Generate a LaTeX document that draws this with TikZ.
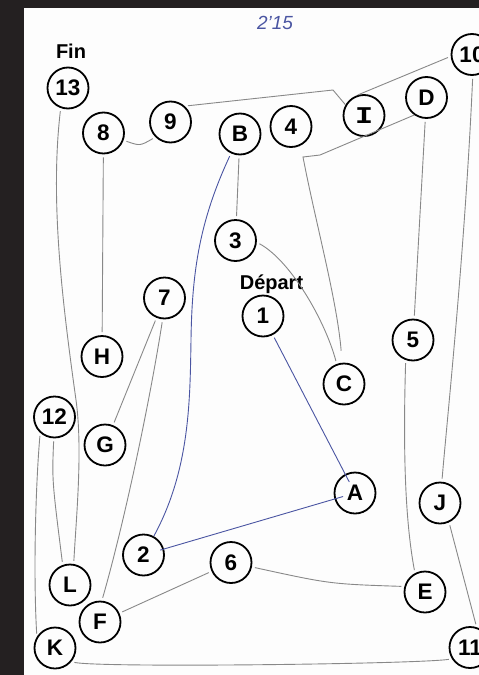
\documentclass[tikz,border=0pt]{standalone}
\usepackage{fontspec}
\setmainfont{Liberation Sans}
\newfontfamily\monoI{Liberation Mono}
\usepackage{tikz}
\usetikzlibrary{calc}
\definecolor{scan}{HTML}{242021}
\definecolor{paper}{HTML}{FDFDFD}
\definecolor{pencil}{HTML}{888888}
\definecolor{bic}{HTML}{4A55A2}

\begin{document}
\begin{tikzpicture}[
  x=1pt, y=-1pt,
  disc/.style={draw, circle, line width=1.8pt, fill=paper, minimum size=41pt, inner sep=0pt,
               font=\fontsize{22.5}{22.5}\selectfont\bfseries},
  tag/.style={anchor=base, font=\fontsize{20}{20}\selectfont\bfseries},
  trail/.style={draw=pencil, line width=0.9pt, shorten <=3pt, shorten >=3pt},
  pen/.style={trail, draw=bic}
]
\useasboundingbox (0,0) rectangle (479,675);
\fill[paper] (0,0) rectangle (479,675);
\fill[scan] (0,0) rectangle (24,675);
\fill[scan] (0,0) rectangle (479,8);

\node[anchor=base, text=bic, font=\fontsize{19}{19}\selectfont\itshape] (chrono) at (275,29) {2'15};
\node[tag] (fin) at (71,58) {Fin};
\node[tag] (depart) at (271.5,289) {Départ};

\node[disc] (n1) at (263,316) {1};
\node[disc] (n2) at (143.5,555) {2};
\node[disc] (n3) at (235.5,240.5) {3};
\node[disc] (n4) at (291,126.5) {4};
\node[disc] (n5) at (413,340) {5};
\node[disc] (n6) at (231,562.5) {6};
\node[disc] (n7) at (164.5,298) {7};
\node[disc] (n8) at (103.5,133) {8};
\node[disc] (n9) at (170.5,122) {9};
\node[disc] (n10) at (472,54.5) {10};
\node[disc] (n11) at (470,647.5) {11};
\node[disc] (n12) at (54.5,417) {12};
\node[disc] (n13) at (68,88) {13};
\node[disc] (nA) at (355,493) {A};
\node[disc] (nB) at (240,134) {B};
\node[disc] (nC) at (344,384) {C};
\node[disc] (nD) at (426.5,97.5) {D};
\node[disc] (nE) at (425,592) {E};
\node[disc] (nF) at (100,622) {F};
\node[disc] (nG) at (105,445) {G};
\node[disc] (nH) at (102,356.5) {H};
\node[disc, font=\monoI\bfseries\fontsize{24}{24}\selectfont] (nI) at (364,115.5) {\scalebox{1.25}[1]{I}};
\node[disc] (nJ) at (440,503) {J};
\node[disc] (nK) at (55,648) {K};
\node[disc] (nL) at (70,585) {L};

\coordinate (b2B) at (191,340);
\coordinate (b4) at (303,157);
\coordinate (b4D) at (320,155);
\coordinate (b9I) at (333,90);
\coordinate (b13L) at (76,400);

\draw[pen, shorten >=-9pt] (n1) -- (nA);
\draw[pen, shorten <=-9pt, shorten >=-4pt] (nA) -- (n2);
\draw[pen, shorten <=0pt] (n2) .. controls (190,470) and (190,400) .. (b2B)
  .. controls (192,270) and (200,220) .. (nB);
\draw[trail] (nB) -- (n3);
\draw[trail] (n3.-5) .. controls (290,260) and (325,320) .. (nC.110);
\draw[trail, shorten <=12pt, shorten >=0pt] (nC.95) .. controls (337,300) and (315,220) .. (b4)
  -- (b4D) -- (nD.235);
\draw[trail] (nD) -- (n5);
\draw[trail] (n5.250) .. controls (403,450) and (405,520) .. (nE.118);
\draw[trail] (nE.165) .. controls (330,584) .. (n6.-12);
\draw[trail] (n6) -- (nF);
\draw[trail] (nF.85) .. controls (125,520) and (150,400) .. (n7.-95);
\draw[trail] (n7) -- (nG);
\draw[trail] (nH) -- (n8);
\draw[trail] (n8.-20) .. controls (140,146) .. (n9.225);
\draw[trail, shorten >=0pt] (n9.48) -- (b9I) -- (nI.150);
\draw[trail] (nI.115) -- (n10.185);
\draw[trail] (n10.-88) .. controls (465,250) and (447,420) .. (nJ.85);
\draw[trail] (nJ.-65) -- (n11.72);
\draw[trail] (n11.212) .. controls (420,664) and (100,668) .. (nK.-40);
\draw[trail] (nK.148) .. controls (33,570) and (36,480) .. (n12.228);
\draw[trail] (n12.-92) .. controls (52,480) .. (nL.110);
\draw[trail] (n13.-110) .. controls (50,200) and (62,300) .. (b13L)
  .. controls (83,450) and (76,520) .. (nL.80);
\end{tikzpicture}
\end{document}
